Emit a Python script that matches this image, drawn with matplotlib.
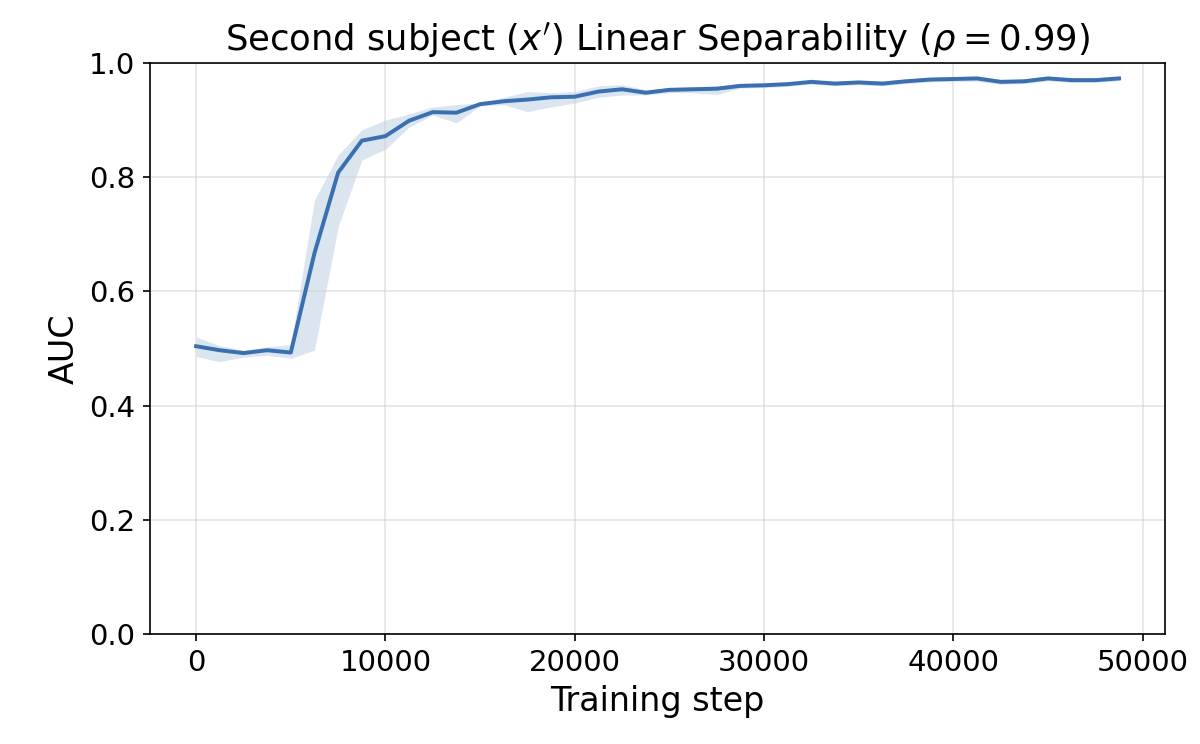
import numpy as np
import matplotlib
matplotlib.use("Agg")
import matplotlib.pyplot as plt

steps = [i * 1250 for i in range(40)]
auc_mean = [0.504, 0.497, 0.492, 0.497, 0.493, 0.667, 0.808, 0.864, 0.872, 0.899,
            0.914, 0.913, 0.928, 0.933, 0.936, 0.940, 0.941, 0.950, 0.954, 0.948,
            0.953, 0.954, 0.955, 0.960, 0.961, 0.963, 0.967, 0.964, 0.966, 0.964,
            0.968, 0.971, 0.972, 0.973, 0.967, 0.968, 0.973, 0.970, 0.970, 0.973]
auc_low = [0.486, 0.477, 0.485, 0.488, 0.483, 0.497, 0.713, 0.830, 0.849, 0.888,
           0.909, 0.895, 0.925, 0.927, 0.915, 0.923, 0.930, 0.940, 0.944, 0.944,
           0.948, 0.948, 0.945, 0.956, 0.957, 0.959, 0.963, 0.960, 0.962, 0.960,
           0.964, 0.967, 0.968, 0.968, 0.963, 0.964, 0.969, 0.966, 0.966, 0.969]
auc_high = [0.520, 0.505, 0.497, 0.503, 0.507, 0.760, 0.839, 0.883, 0.900, 0.911,
            0.923, 0.927, 0.930, 0.940, 0.950, 0.948, 0.950, 0.960, 0.962, 0.953,
            0.957, 0.959, 0.960, 0.964, 0.965, 0.967, 0.970, 0.968, 0.970, 0.968,
            0.972, 0.975, 0.976, 0.977, 0.971, 0.972, 0.977, 0.974, 0.974, 0.977]

color = "#3a70b0"

fig = plt.figure(figsize=(8, 4.96), dpi=150)
ax = fig.add_axes([0.125, 0.1478, 0.846, 0.7675])
ax.fill_between(steps, auc_low, auc_high, color=color, alpha=0.18, linewidth=0)
ax.plot(steps, auc_mean, color=color, linewidth=1.9)
ax.set_ylim(0, 1.0)
ax.set_yticks([0.0, 0.2, 0.4, 0.6, 0.8, 1.0])
ax.set_xticks([0, 10000, 20000, 30000, 40000, 50000])
ax.grid(True, color="#cccccc", alpha=0.5, linewidth=0.8)
ax.tick_params(labelsize=14)
ax.set_xlabel("Training step", fontsize=16)
ax.set_ylabel("AUC", fontsize=16)
ax.set_title(r"Second subject ($x'$) Linear Separability ($\rho = 0.99$)", fontsize=17)

fig.savefig("out.png", dpi=150)
